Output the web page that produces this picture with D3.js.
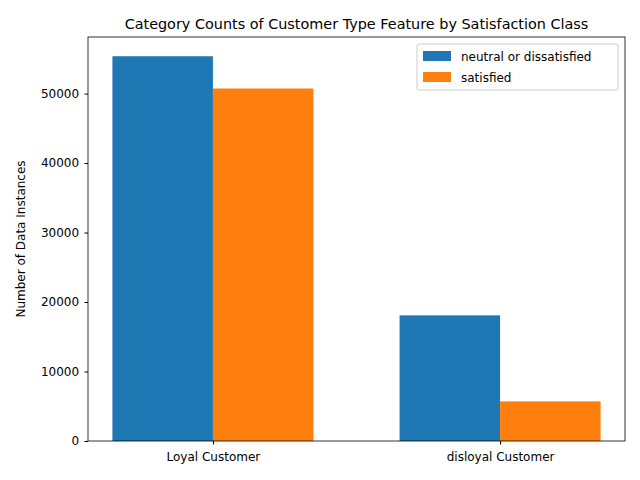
<!DOCTYPE html>
<html><head><meta charset="utf-8">
<script src="https://cdn.jsdelivr.net/npm/d3@7"></script>
<style>body{margin:0;background:#fff}text{font-family:"DejaVu Sans",sans-serif}</style>
</head><body><svg id="c" width="640" height="480"></svg>
<script>
const categories = ["Loyal Customer", "disloyal Customer"];
const seriesNames = ["neutral or dissatisfied", "satisfied"];
const neutralVals = [55372, 18080];
const satisfiedVals = [50728, 5700];
const yTicks = [0, 10000, 20000, 30000, 40000, 50000];
const colors = ["#1f77b4", "#ff7f0e"];

const pLeft = 88, pRight = 625, pTop = 37, pBottom = 441, bw = 0.35;
const svg = d3.select("#c");
const x = d3.scaleLinear().domain([-0.435, 1.435]).range([pLeft, pRight]);
const y = d3.scaleLinear().domain([0, 55372 * 1.05]).range([pBottom, pTop]);

[neutralVals, satisfiedVals].forEach((vals, s) => {
  svg.selectAll(null).data(vals).enter().append("rect")
    .attr("x", (d, i) => x(i + (s === 0 ? -bw : 0)))
    .attr("width", x(bw) - x(0))
    .attr("y", d => y(d))
    .attr("height", d => pBottom - y(d))
    .attr("fill", colors[s]);
});

svg.append("g").attr("transform", `translate(0,${pBottom})`)
  .call(d3.axisBottom(x).tickValues([0, 1]).tickFormat(i => categories[i]).tickSize(3.5).tickSizeOuter(0))
  .call(g => g.selectAll("text").attr("font-size", 12).attr("dy", "1.1em"));
svg.append("g").attr("transform", `translate(${pLeft},0)`)
  .call(d3.axisLeft(y).tickValues(yTicks).tickFormat(d3.format("d")).tickSize(3.5).tickSizeOuter(0))
  .call(g => g.selectAll("text").attr("font-size", 12).attr("dx", "-0.2em"));
svg.selectAll(".domain").remove();
svg.append("rect").attr("x", pLeft).attr("y", pTop).attr("width", pRight - pLeft).attr("height", pBottom - pTop)
  .attr("fill", "none").attr("stroke", "#000").attr("stroke-width", 0.8);

svg.append("text").attr("x", (pLeft + pRight) / 2).attr("y", 29).attr("text-anchor", "middle")
  .attr("font-size", 14.4).text("Category Counts of Customer Type Feature by Satisfaction Class");
svg.append("text").attr("transform", `translate(25,${(pTop + pBottom) / 2}) rotate(-90)`)
  .attr("text-anchor", "middle").attr("font-size", 12).text("Number of Data Instances");

const lg = svg.append("g").attr("transform", "translate(417,44)");
lg.append("rect").attr("width", 201).attr("height", 46).attr("rx", 2).attr("fill", "#fff")
  .attr("stroke", "#ccc");
seriesNames.forEach((n, i) => {
  lg.append("rect").attr("x", 6).attr("y", 7 + i * 21).attr("width", 28).attr("height", 10).attr("fill", colors[i]);
  lg.append("text").attr("x", 44).attr("y", 16.5 + i * 21).attr("font-size", 12).text(n);
});
</script></body></html>
